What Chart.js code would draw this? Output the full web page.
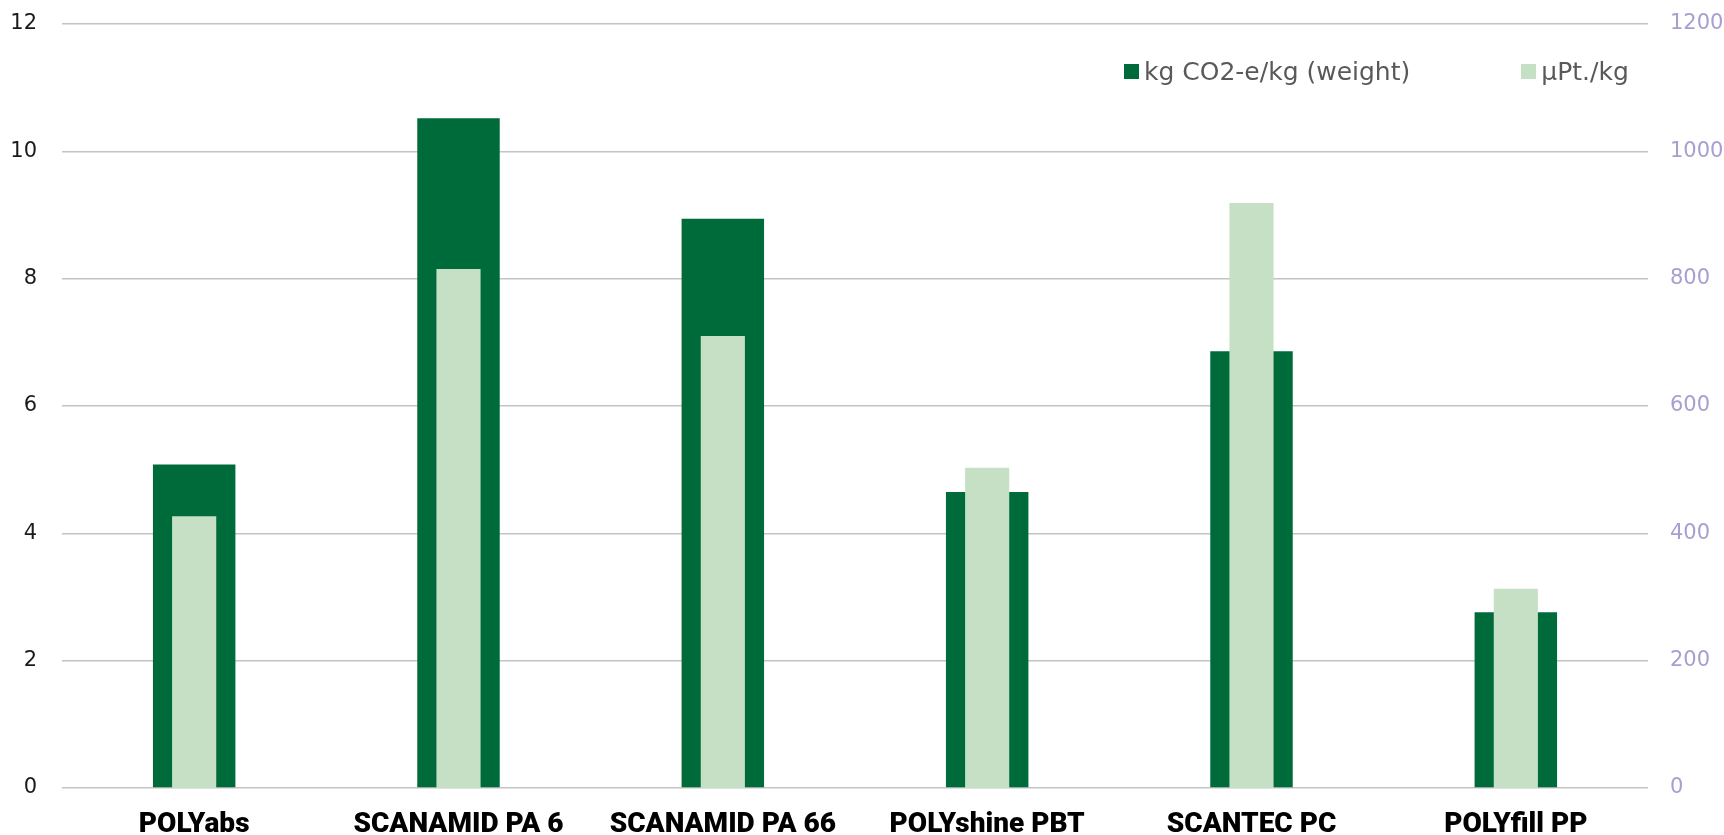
<!DOCTYPE html>
<html>
<head>
<meta charset="utf-8">
<script src="https://cdn.jsdelivr.net/npm/chart.js@4.4.1/dist/chart.umd.min.js"></script>
<style>
    body { margin: 0; background: #ffffff; }
    #wrap { position: relative; width: 1724px; height: 835px; }
    .legend {
        position: absolute; top: 57px; left: 1124px;
        display: flex; align-items: center;
        font-family: "DejaVu Sans", sans-serif; font-size: 25px; color: #595959;
    }
    .legend .item { display: flex; align-items: center; }
    .legend .box { width: 15px; height: 15px; margin-right: 5px; }
</style>
</head>
<body>
<div id="wrap">
    <canvas id="co2Chart"></canvas>
    <div class="legend">
        <div class="item"><span class="box" style="background:#006b3a"></span>kg CO2-e/kg (weight)</div>
        <div class="item" style="margin-left: 111px;"><span class="box" style="background:#c6e0c6"></span>µPt./kg</div>
    </div>
</div>
<script>
// Chart data
const categories = ['POLYabs', 'SCANAMID PA 6', 'SCANAMID PA 66', 'POLYshine PBT', 'SCANTEC PC', 'POLYfill PP'];
const co2PerKg = [5.08, 10.52, 8.94, 4.65, 6.86, 2.76];
const microPointsPerKg = [427, 815, 710, 503, 919, 313];
const leftAxisMax = 12;
const rightAxisMax = 1200;

// fixed axis width, and drop the label overflow padding so the plot starts where we want
function fixAxis(width) {
    return (axis) => {
        axis.width = width;
        axis.paddingTop = 0;
        axis.paddingBottom = 0;
    };
}

document.addEventListener('DOMContentLoaded', () => {
    const canvas = document.getElementById('co2Chart');

    new Chart(canvas.getContext('2d'), {
        type: 'bar',
        data: {
            labels: categories,
            datasets: [{
                label: 'kg CO2-e/kg (weight)',
                data: co2PerKg,
                yAxisID: 'y',
                backgroundColor: '#006b3a',
                borderWidth: 0,
                grouped: false,
                order: 2,
                barPercentage: 0.312,
                categoryPercentage: 1
            }, {
                label: 'µPt./kg',
                data: microPointsPerKg,
                yAxisID: 'y1',
                backgroundColor: '#c6e0c6',
                borderWidth: 0,
                grouped: false,
                order: 1,
                barPercentage: 0.167,
                categoryPercentage: 1
            }]
        },
        options: {
            responsive: true,
            maintainAspectRatio: false,
            animation: false,
            layout: { padding: { top: 24, bottom: 0, left: 0, right: 0 } },
            plugins: {
                legend: { display: false },
                tooltip: { enabled: false }
            },
            scales: {
                x: {
                    grid: { display: false },
                    border: { display: false },
                    ticks: {
                        color: '#000000',
                        padding: 12,
                        font: { family: 'Roboto', size: 28, weight: 900 }
                    },
                    afterFit: (axis) => { axis.height = 47; }
                },
                y: {
                    position: 'left',
                    min: 0,
                    max: leftAxisMax,
                    ticks: {
                        stepSize: 2,
                        color: '#1a1a1a',
                        padding: 25,
                        font: { family: 'DejaVu Sans', size: 21 }
                    },
                    grid: { color: '#c4c4c4', lineWidth: 1.5, drawTicks: false },
                    border: { display: false },
                    afterFit: fixAxis(62)
                },
                y1: {
                    position: 'right',
                    min: 0,
                    max: rightAxisMax,
                    ticks: {
                        stepSize: 200,
                        color: '#a6a0d0',
                        padding: 22,
                        font: { family: 'DejaVu Sans', size: 21 },
                        callback: (value) => String(value)
                    },
                    grid: { display: false, drawTicks: false },
                    border: { display: false },
                    afterFit: fixAxis(76)
                }
            }
        }
    });
});
</script>
</body>
</html>
